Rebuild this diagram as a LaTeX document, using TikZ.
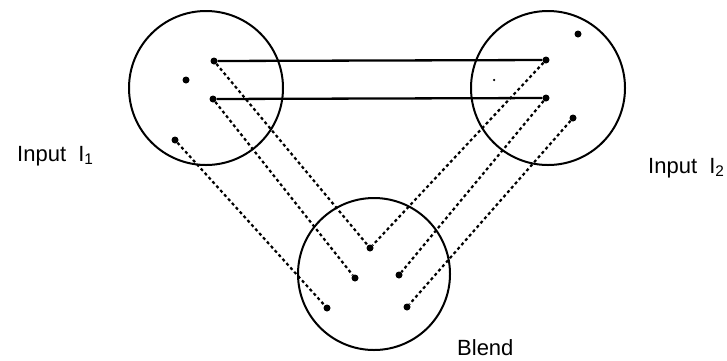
\documentclass[tikz,border=0pt]{standalone}
\usepackage{fontspec}
\setmainfont{Liberation Sans}
\usetikzlibrary{positioning}
\tikzset{
  space/.style={circle,draw,line width=2pt,minimum size=154pt,inner sep=0pt},
  pt/.style={circle,fill,inner sep=0pt,minimum size=7pt},
  link/.style={line width=2.3pt},
  map/.style={line width=2.2pt,dash pattern=on 3pt off 2.8pt},
  lbl/.style={font=\fontsize{22}{26}\selectfont,anchor=base west,inner sep=0pt}
}
\begin{document}
\begin{tikzpicture}[x=1pt,y=-1pt]
\useasboundingbox (0,0) rectangle (727,360);
% mental spaces
\node[space] (inA) at (206,88) {};
\node[space] (inB) at (548,88) {};
\node[space,minimum size=152pt] (bl) at (374,274) {};
% elements of input 1
\node[pt] (a1) at (214,61) {};
\node[pt] (a2) at (186,80) {};
\node[pt] (a3) at (213,99) {};
\node[pt] (a4) at (175,140) {};
% elements of input 2
\node[pt] (b0) at (578,34) {};
\node[pt] (b1) at (546,60) {};
\node[pt,minimum size=2.5pt] (bx) at (494,80) {};
\node[pt] (b2) at (546,98) {};
\node[pt] (b3) at (573,118) {};
% elements of blend
\node[pt] (c1) at (370,248) {};
\node[pt] (c2) at (355,278) {};
\node[pt] (c3) at (399,275) {};
\node[pt] (c4) at (327,308) {};
\node[pt] (c5) at (407,307) {};
% cross-space counterparts
\draw[link] (a1)--(b1);
\draw[link] (a3)--(b2);
% projections into blend
\draw[map] (a1)--(c1);
\draw[map] (b1)--(c1);
\draw[map] (a3)--(c2);
\draw[map] (b2)--(c3);
\draw[map] (a4)--(c4);
\draw[map] (b3)--(c5);
% labels
\node[lbl] (la) at (17,161) {Input\ \ I\textsubscript{1}};
\node[lbl] (lb) at (648,173) {Input\ \ I\textsubscript{2}};
\node[lbl] (lc) at (457,355) {Blend};
\end{tikzpicture}
\end{document}
